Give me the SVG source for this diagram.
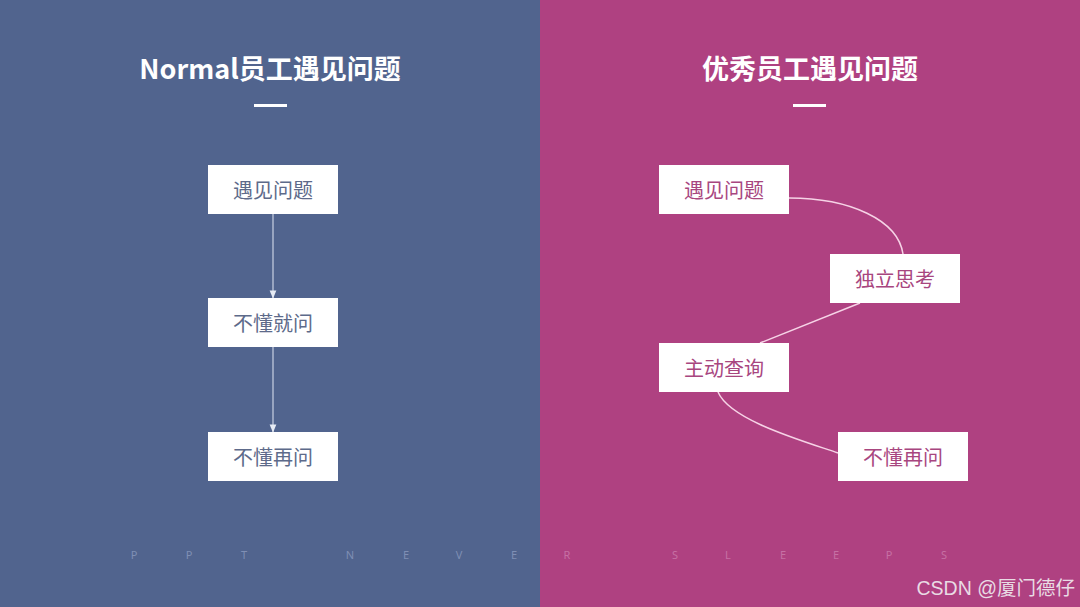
<svg xmlns="http://www.w3.org/2000/svg" width="1080" height="607" viewBox="0 0 1080 607">
<defs>
<style>
.title{font-family:"Noto Sans CJK SC","Noto Sans",sans-serif;font-weight:700;font-size:27px;fill:#ffffff;text-anchor:middle}
.box{fill:#ffffff}
.lt{font-family:"Noto Sans CJK SC",sans-serif;font-size:20px;fill:#5d6a8a;text-anchor:middle}
.rt{font-family:"Noto Sans CJK SC",sans-serif;font-size:20px;fill:#a8467f;text-anchor:middle}
.ft{font-family:"Noto Sans","Liberation Sans",sans-serif;font-size:11px;text-anchor:middle}
.la{stroke:#c9d1e2;stroke-width:1.2;fill:none}
.ra{stroke:#f6d3e6;stroke-width:1.5;fill:none}
</style>
<marker id="arr" viewBox="0 0 10 10" refX="9" refY="5" markerWidth="7" markerHeight="7" orient="auto">
<path d="M0,1 L10,5 L0,9 Z" fill="#e6ebf4"/>
</marker>
</defs>
<rect x="0" y="0" width="540" height="607" fill="#51648e"/>
<rect x="540" y="0" width="540" height="607" fill="#af4181"/>

<text class="title" x="270" y="79">Normal员工遇见问题</text>
<rect x="254" y="104" width="33" height="3" fill="#ffffff"/>
<text class="title" x="810" y="79">优秀员工遇见问题</text>
<rect x="793" y="104" width="33" height="3" fill="#ffffff"/>

<g id="connectors">
<line class="la" x1="273" y1="214" x2="273" y2="298" marker-end="url(#arr)"/>
<line class="la" x1="273" y1="347" x2="273" y2="432" marker-end="url(#arr)"/>
<path class="ra" d="M789,198 C850,198 898,220 903,254"/>
<path class="ra" d="M860,303 L760,343"/>
<path class="ra" d="M718,392 C730,420 800,440 838,453"/>
</g>

<g id="l1"><rect class="box" x="208" y="165" width="130" height="49"/><text class="lt" x="273" y="198">遇见问题</text></g>
<g id="l2"><rect class="box" x="208" y="298" width="130" height="49"/><text class="lt" x="273" y="331">不懂就问</text></g>
<g id="l3"><rect class="box" x="208" y="432" width="130" height="49"/><text class="lt" x="273" y="465">不懂再问</text></g>

<g id="r1"><rect class="box" x="659" y="165" width="130" height="49"/><text class="rt" x="724" y="198">遇见问题</text></g>
<g id="r2"><rect class="box" x="830" y="254" width="130" height="49"/><text class="rt" x="895" y="287">独立思考</text></g>
<g id="r3"><rect class="box" x="659" y="343" width="130" height="49"/><text class="rt" x="724" y="376">主动查询</text></g>
<g id="r4"><rect class="box" x="838" y="432" width="130" height="49"/><text class="rt" x="903" y="465">不懂再问</text></g>

<g fill="#7f8fb4">
<text class="ft" x="134" y="559">P</text>
<text class="ft" x="189" y="559">P</text>
<text class="ft" x="244" y="559">T</text>
<text class="ft" x="350" y="559">N</text>
<text class="ft" x="406" y="559">E</text>
<text class="ft" x="459" y="559">V</text>
<text class="ft" x="514" y="559">E</text>
</g>
<g fill="#c670a4">
<text class="ft" x="567" y="559">R</text>
<text class="ft" x="675" y="559">S</text>
<text class="ft" x="728" y="559">L</text>
<text class="ft" x="783" y="559">E</text>
<text class="ft" x="836" y="559">E</text>
<text class="ft" x="889" y="559">P</text>
<text class="ft" x="944" y="559">S</text>
</g>
<text x="1075" y="595" font-family="'Liberation Sans','Noto Sans CJK SC',sans-serif" font-size="19.5" fill="#e9dbe4" text-anchor="end">CSDN @厦门德仔</text>
</svg>
